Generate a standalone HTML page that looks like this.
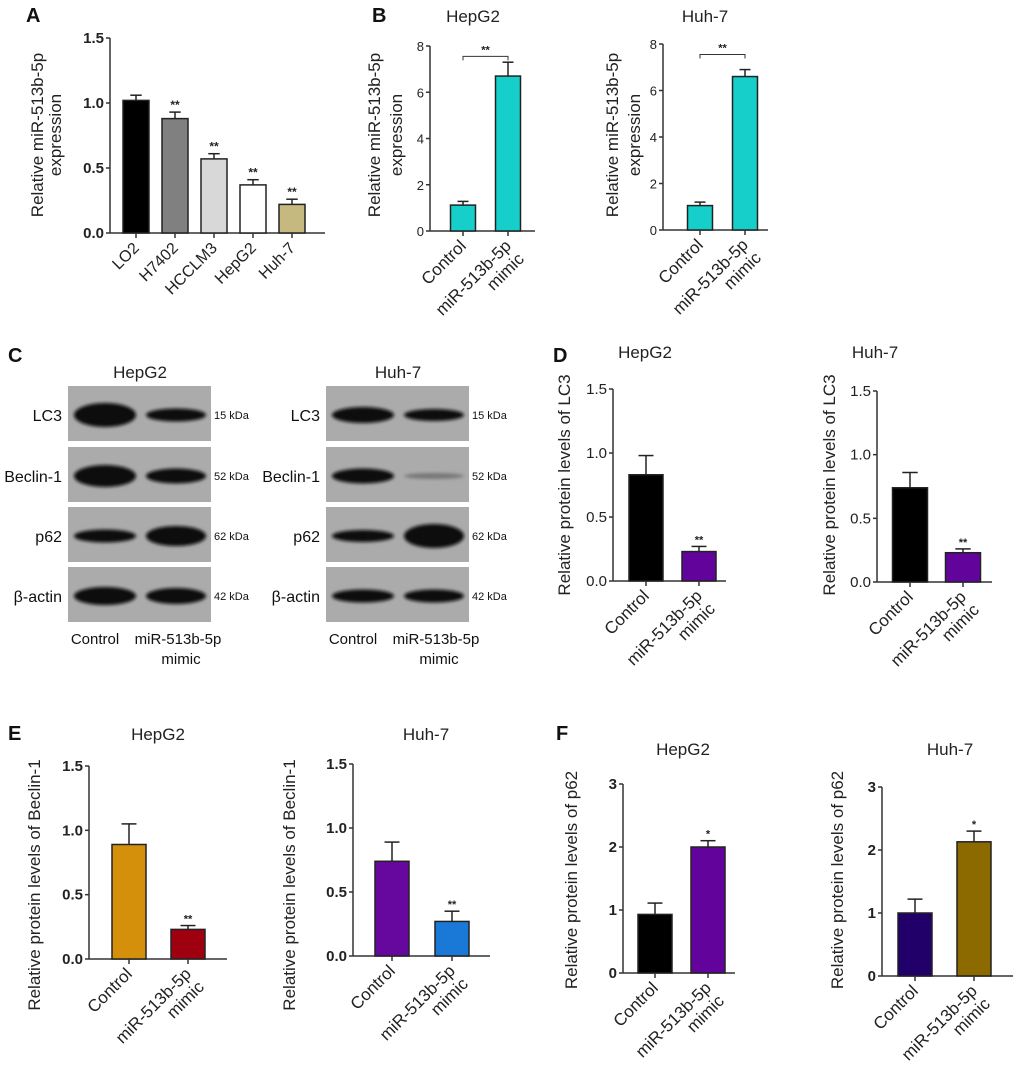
<!DOCTYPE html>
<html><head><meta charset="utf-8"><style>
body{margin:0;background:#fff}
svg{display:block;font-family:"Liberation Sans",Arial,sans-serif}
</style></head><body>
<svg id="fig" width="1020" height="1072" viewBox="0 0 1020 1072">
<defs><filter id="blur" x="-20%" y="-50%" width="140%" height="200%"><feGaussianBlur stdDeviation="1.6"/></filter></defs>
<g id="letters" font-weight="bold" font-size="20" fill="#111">
<text x="26" y="22">A</text>
<text x="372" y="22">B</text>
<text x="8" y="362">C</text>
<text x="553" y="362">D</text>
<text x="8" y="740">E</text>
<text x="556" y="740">F</text>
</g>
<g id="charts"></g>
<g id="blots"></g>
</svg>
<script>
// ---- data ----
const catsA = ["LO2","H7402","HCCLM3","HepG2","Huh-7"];
const valsA = [1.02,0.88,0.57,0.37,0.22];
const errA  = [0.04,0.05,0.04,0.04,0.04];
const sigA  = ["","**","**","**","**"];
const ticksA = ["0.0","0.5","1.0","1.5"];

const catsTwo = ["Control","miR-513b-5p|mimic"];
const valsB1 = [1.12,6.7];  const errB1 = [0.16,0.6];
const valsB2 = [1.05,6.6];  const errB2 = [0.15,0.3];
const ticksB = ["0","2","4","6","8"];

const valsD1 = [0.83,0.23]; const errD1 = [0.15,0.04]; const sigD1 = ["","**"];
const valsD2 = [0.74,0.23]; const errD2 = [0.12,0.03]; const sigD2 = ["","**"];
const valsE1 = [0.89,0.23]; const errE1 = [0.16,0.03]; const sigE1 = ["","**"];
const valsE2 = [0.74,0.27]; const errE2 = [0.15,0.08]; const sigE2 = ["","**"];
const ticks15 = ["0.0","0.5","1.0","1.5"];
const valsF1 = [0.93,2.0];  const errF1 = [0.18,0.1];  const sigF1 = ["","*"];
const valsF2 = [1.0,2.13];  const errF2 = [0.22,0.17]; const sigF2 = ["","*"];
const ticksF = ["0","1","2","3"];

const NS="http://www.w3.org/2000/svg";
function mk(tag,attrs,parent,text){const e=document.createElementNS(NS,tag);for(const k in attrs)e.setAttribute(k,attrs[k]);if(text!==undefined)e.textContent=text;parent.appendChild(e);return e;}

function chart(id,cfg,cats,vals,errs,sigs,ticks){
  const g=mk('g',{id:id},document.getElementById('charts'));
  
  
  const max=parseFloat(ticks[ticks.length-1]);
  const y=v=>cfg.y0-(v/max)*(cfg.y0-cfg.yTop);
  const x=i=>cfg.x0+i*cfg.step;
  const ya=mk('line',{x1:cfg.ax,y1:cfg.yTop,x2:cfg.ax,y2:cfg.y0,stroke:'#333','stroke-width':1.5},g);
  
  
  const xa=mk('line',{x1:cfg.ax,y1:cfg.y0,x2:cfg.xEnd,y2:cfg.y0,stroke:'#333','stroke-width':1.5},g);
  
  
  ticks.forEach(t=>{
    const v=parseFloat(t),yy=y(v);
    mk('line',{x1:cfg.ax-4,y1:yy,x2:cfg.ax,y2:yy,stroke:'#333','stroke-width':1.5},g);
    const tl=mk('text',{x:cfg.ax-6,y:yy+5,'text-anchor':'end','font-size':cfg.tfs||15,'font-weight':cfg.bold?'bold':'normal',fill:'#222'},g,t);
    
    
  });
  cats.forEach((c,i)=>{
    const cx=x(i),top=y(vals[i]);
    const b=mk('rect',{x:cx-cfg.bw/2,y:top,width:cfg.bw,height:cfg.y0-top,fill:cfg.colors[i],stroke:'#222','stroke-width':1.5},g);
    
    
    const ey=y(vals[i]+errs[i]);
    mk('line',{x1:cx,y1:top,x2:cx,y2:ey,stroke:'#222','stroke-width':1.5},g);
    mk('line',{x1:cx-cfg.bw*0.22,y1:ey,x2:cx+cfg.bw*0.22,y2:ey,stroke:'#222','stroke-width':1.5},g);
    mk('line',{x1:cx,y1:cfg.y0,x2:cx,y2:cfg.y0+5,stroke:'#333','stroke-width':1.5},g);
    if(sigs&&sigs[i]){const s=mk('text',{x:cx,y:ey-3,'text-anchor':'middle','font-size':cfg.sfs||11,'font-weight':'bold',fill:'#222'},g,sigs[i]);
      
      }
    const lines=c.split('|');
    lines.forEach((ln,k)=>{
      const lx=cx+4+k*13,ly=cfg.y0+16+k*13;
      const t=mk('text',{x:lx,y:ly,'text-anchor':'end','font-size':cfg.xfs||17,fill:'#222',transform:`rotate(-45 ${lx} ${ly})`},g,ln);
      
      
    });
  });
  cfg.ytitle.forEach((ln,k)=>{
    const tx=cfg.ytx+k*cfg.ytdx, ty=cfg.yty;
    const t=mk('text',{x:tx,y:ty,'text-anchor':'middle','font-size':cfg.yfs||17,fill:'#222',transform:`rotate(-90 ${tx} ${ty})`},g,ln);
    
    
  });
  if(cfg.title){const t=mk('text',{x:cfg.title[0],y:cfg.title[1],'text-anchor':'middle','font-size':17,fill:'#222'},g,cfg.title[2]);
    
    }
  if(cfg.bracket){const by=y(cfg.bracket);
    mk('path',{d:`M${x(0)} ${by+4}V${by}H${x(1)}V${by+4}`,fill:'none',stroke:'#333','stroke-width':1},g);
    const s=mk('text',{x:(x(0)+x(1))/2,y:by-3,'text-anchor':'middle','font-size':11,'font-weight':'bold',fill:'#222'},g,'**');
    
    }
}

chart('chart-a',{ax:110,yTop:38,y0:233,xEnd:325,x0:136,step:39,bw:26,bold:true,colors:['#000','#808080','#d8d8d8','#fff','#c6b97f'],ytitle:['Relative miR-513b-5p','expression'],ytx:43,ytdx:18,yty:135,xfs:16,sfs:12},catsA,valsA,errA,sigA,ticksA);
const cyan=['#17cfca','#17cfca'];
chart('chart-b-hepg2',{ax:430,yTop:46,y0:231,xEnd:535,x0:463,step:45,bw:25,colors:cyan,ytitle:['Relative miR-513b-5p','expression'],ytx:380,ytdx:22,yty:135,title:[473,22,'HepG2'],bracket:7.55,tfs:13},catsTwo,valsB1,errB1,null,ticksB);
chart('chart-b-huh7',{ax:663,yTop:44,y0:230,xEnd:768,x0:700,step:45,bw:25,colors:cyan,ytitle:['Relative miR-513b-5p','expression'],ytx:618,ytdx:22,yty:135,title:[705,22,'Huh-7'],bracket:7.55,tfs:13},catsTwo,valsB2,errB2,null,ticksB);
chart('chart-d-hepg2',{ax:613,yTop:389,y0:581,xEnd:726,x0:646,step:53,bw:34,colors:['#000','#62049c'],ytitle:['Relative protein levels of LC3'],ytx:570,ytdx:0,yty:485,title:[645,358,'HepG2']},catsTwo,valsD1,errD1,sigD1,ticks15);
chart('chart-d-huh7',{ax:877,yTop:391,y0:582,xEnd:992,x0:910,step:53,bw:35,colors:['#000','#62049c'],ytitle:['Relative protein levels of LC3'],ytx:835,ytdx:0,yty:485,title:[875,358,'Huh-7']},catsTwo,valsD2,errD2,sigD2,ticks15);
chart('chart-e-hepg2',{ax:89,yTop:766,y0:959,xEnd:227,x0:129,step:59,bw:34,bold:true,colors:['#d4900a','#9e0010'],ytitle:['Relative protein levels of Beclin-1'],ytx:40,ytdx:0,yty:885,title:[158,740,'HepG2']},catsTwo,valsE1,errE1,sigE1,ticks15);
chart('chart-e-huh7',{ax:353,yTop:764,y0:956,xEnd:490,x0:392,step:60,bw:34,bold:true,colors:['#66079e','#1a78d6'],ytitle:['Relative protein levels of Beclin-1'],ytx:295,ytdx:0,yty:885,title:[426,740,'Huh-7']},catsTwo,valsE2,errE2,sigE2,ticks15);
chart('chart-f-hepg2',{ax:623,yTop:784,y0:973,xEnd:735,x0:655,step:53,bw:34,bold:true,colors:['#000','#62049c'],ytitle:['Relative protein levels of p62'],ytx:577,ytdx:0,yty:880,title:[683,755,'HepG2']},catsTwo,valsF1,errF1,sigF1,ticksF);
chart('chart-f-huh7',{ax:882,yTop:787,y0:976,xEnd:1013,x0:915,step:59,bw:34,bold:true,colors:['#22006a','#8c6a00'],ytitle:['Relative protein levels of p62'],ytx:843,ytdx:0,yty:880,title:[950,755,'Huh-7']},catsTwo,valsF2,errF2,sigF2,ticksF);

// ---- blots ----
const blotRows=["LC3","Beclin-1","p62","β-actin"];
const blotKda=["15 kDa","52 kDa","62 kDa","42 kDa"];
const bandH1=[[22,11],[20,13],[11,18],[16,14]];
const bandH2=[[14,10],[13,4],[10,22],[11,11]];
function blot(id,x0,title,heights){
  const g=mk('g',{id:id},document.getElementById('blots'));
  
  
  const t=mk('text',{x:x0+72,y:378,'text-anchor':'middle','font-size':17,fill:'#222'},g,title);
  
  
  const ys=[386,447,507,567];
  blotRows.forEach((r,i)=>{
    const y=ys[i];
    const bg=mk('rect',{x:x0,y:y,width:143,height:55,fill:'#ababab'},g);
    
    
    const cy=y+29;
    const op=heights[i][1]<6?0.3:1;
    mk('ellipse',{cx:x0+37,cy:cy,rx:31,ry:heights[i][0]/2+1,fill:'#0d0d0d',filter:'url(#blur)'},g);
    mk('ellipse',{cx:x0+108,cy:cy,rx:30,ry:heights[i][1]/2+1,fill:'#0d0d0d','fill-opacity':op,filter:'url(#blur)'},g);
    const l=mk('text',{x:x0-6,y:cy+6,'text-anchor':'end','font-size':16,fill:'#111'},g,r);
    
    
    const k=mk('text',{x:x0+146,y:cy+4,'font-size':11,fill:'#111'},g,blotKda[i]);
    
    
  });
  const c1=mk('text',{x:x0+27,y:644,'text-anchor':'middle','font-size':15,fill:'#111'},g,'Control');
  
  
  const c2=mk('text',{x:x0+110,y:644,'text-anchor':'middle','font-size':15,fill:'#111'},g,'miR-513b-5p');
  
  
  const c3=mk('text',{x:x0+113,y:664,'text-anchor':'middle','font-size':15,fill:'#111'},g,'mimic');
  
  
}
blot('blot-hepg2',68,'HepG2',bandH1);
blot('blot-huh7',326,'Huh-7',bandH2);
</script>
</body></html>
